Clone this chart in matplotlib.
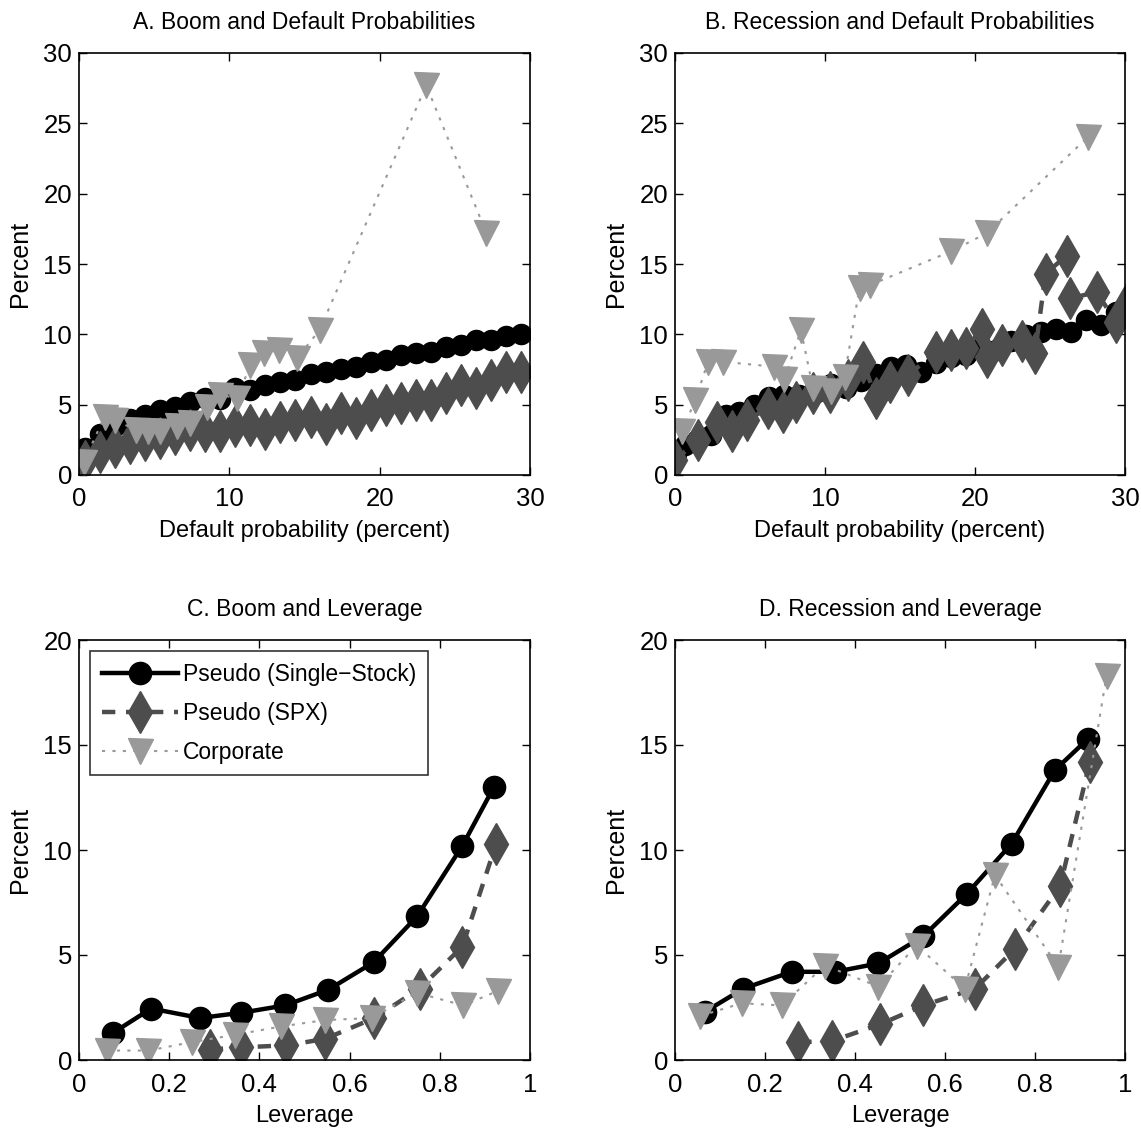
import numpy as np
import matplotlib.pyplot as plt

plt.switch_backend('Agg')
plt.rcParams['font.family'] = ['Liberation Sans', 'DejaVu Sans']

# Panel A: boom vs default probability
a_circ_x = [0.4, 1.4, 2.4, 3.4, 4.4, 5.4, 6.4, 7.4, 8.4, 9.4, 10.4, 11.4, 12.4, 13.4, 14.4,
            15.4, 16.4, 17.4, 18.4, 19.4, 20.4, 21.4, 22.4, 23.4, 24.4, 25.4, 26.4, 27.4, 28.4, 29.4]
a_circ_y = [1.9, 2.9, 3.5, 4.0, 4.25, 4.6, 4.85, 5.2, 5.45, 5.4, 6.15, 6.05, 6.4, 6.6, 6.75,
            7.2, 7.3, 7.55, 7.7, 8.05, 8.15, 8.5, 8.65, 8.75, 9.1, 9.25, 9.6, 9.6, 9.85, 10.05]
a_diam_x = [0.4, 1.4, 2.4, 3.4, 4.4, 5.4, 6.4, 7.4, 8.4, 9.4, 10.4, 11.4, 12.4, 13.4, 14.4,
            15.4, 16.4, 17.4, 18.4, 19.4, 20.4, 21.4, 22.4, 23.4, 24.4, 25.4, 26.4, 27.4, 28.4, 29.4]
a_diam_y = [1.0, 1.65, 2.0, 2.25, 2.5, 2.6, 2.95, 3.2, 3.1, 3.1, 3.45, 3.55, 3.3, 3.8, 3.9,
            4.15, 3.65, 4.4, 4.05, 4.6, 5.0, 5.1, 5.3, 5.3, 5.8, 6.4, 6.15, 6.75, 7.35, 7.35]
a_tri_x = [0.3, 1.7, 2.4, 3.8, 4.6, 5.4, 6.5, 7.4, 8.5, 9.4, 10.5, 11.4, 12.3, 13.3, 14.5, 16.0, 23.1, 27.1]
a_tri_y = [0.9, 4.15, 3.9, 3.2, 3.1, 3.1, 3.45, 3.7, 4.85, 5.7, 5.45, 7.8, 8.65, 8.9, 8.3, 10.3, 27.7, 17.2]

# Panel B: recession vs default probability
b_circ_x = [0.1, 0.7, 1.5, 2.4, 3.4, 4.3, 5.3, 6.3, 7.3, 8.3, 9.3, 10.4, 11.4, 12.4, 13.4, 14.4,
            15.4, 16.4, 17.4, 18.4, 19.4, 20.4, 21.4, 22.4, 23.4, 24.4, 25.4, 26.4, 27.4, 28.4, 29.4]
b_circ_y = [1.5, 2.1, 2.5, 2.85, 4.25, 4.5, 5.0, 5.55, 5.7, 5.7, 5.8, 6.5, 6.15, 6.7, 7.2, 7.7,
            7.8, 7.35, 7.95, 8.4, 8.5, 9.1, 8.9, 9.5, 9.95, 10.2, 10.4, 10.2, 11.0, 10.65, 11.6]
b_diam_x = [0.0, 1.55, 2.8, 3.8, 4.8, 6.2, 7.2, 8.1, 9.2, 10.3, 11.55, 12.55, 13.4, 14.3, 15.55,
            17.4, 18.4, 19.4, 20.45, 20.8, 21.8, 23.1, 24.0, 24.7, 26.1, 26.3, 28.1, 29.4, 30.2]
b_diam_y = [1.05, 2.5, 3.8, 3.1, 3.9, 4.75, 4.5, 5.2, 5.8, 5.9, 6.75, 8.05, 5.45, 6.6, 7.1,
            8.75, 8.9, 9.0, 10.4, 8.4, 9.25, 9.5, 8.65, 14.3, 15.6, 12.55, 13.0, 10.9, 12.4]
b_tri_x = [0.45, 1.35, 2.2, 3.2, 6.6, 7.3, 8.4, 9.2, 10.4, 11.3, 12.3, 13.0, 18.4, 20.8, 27.5]
b_tri_y = [3.1, 5.3, 8.05, 8.05, 7.7, 6.85, 10.3, 6.15, 6.0, 7.0, 13.3, 13.5, 15.9, 17.2, 24.0]

# Panel C: boom vs leverage
c_circ_x = [0.076, 0.16, 0.268, 0.36, 0.457, 0.553, 0.653, 0.75, 0.85, 0.92]
c_circ_y = [1.3, 2.45, 2.0, 2.25, 2.6, 3.35, 4.65, 6.85, 10.2, 13.0]
c_diam_x = [0.29, 0.36, 0.46, 0.545, 0.655, 0.755, 0.85, 0.925]
c_diam_y = [0.5, 0.6, 0.7, 1.0, 2.0, 3.4, 5.4, 10.3]
c_tri_x = [0.061, 0.154, 0.25, 0.346, 0.449, 0.545, 0.649, 0.749, 0.852, 0.93]
c_tri_y = [0.45, 0.45, 0.85, 1.2, 1.6, 1.9, 2.0, 3.2, 2.6, 3.3]

# Panel D: recession vs leverage
d_circ_x = [0.067, 0.152, 0.259, 0.356, 0.452, 0.552, 0.648, 0.748, 0.844, 0.918]
d_circ_y = [2.3, 3.4, 4.2, 4.2, 4.6, 5.9, 7.9, 10.3, 13.8, 15.3]
d_diam_x = [0.274, 0.348, 0.456, 0.552, 0.667, 0.756, 0.856, 0.922]
d_diam_y = [0.85, 0.9, 1.7, 2.6, 3.4, 5.3, 8.3, 14.2]
d_tri_x = [0.056, 0.148, 0.237, 0.333, 0.452, 0.537, 0.644, 0.711, 0.852, 0.959]
d_tri_y = [2.1, 2.7, 2.6, 4.5, 3.5, 5.45, 3.4, 8.8, 4.45, 18.3]

titles = ['A. Boom and Default Probabilities', 'B. Recession and Default Probabilities',
          'C. Boom and Leverage', 'D. Recession and Leverage']
series_names = ['Pseudo (Single\u2212Stock)', 'Pseudo (SPX)', 'Corporate']

dark = '#4d4d4d'
light = '#999999'

fig = plt.figure(figsize=(11.41, 11.33), dpi=100)
W, H = 1141.0, 1133.0
boxes = [(79, 53, 530, 475), (675, 53, 1125, 475), (79, 640, 530, 1060), (675, 640, 1125, 1060)]
axs = [fig.add_axes([l / W, 1 - b / H, (r - l) / W, (b - t) / H]) for l, t, r, b in boxes]

panels = [
    (a_circ_x, a_circ_y, a_diam_x, a_diam_y, a_tri_x, a_tri_y),
    (b_circ_x, b_circ_y, b_diam_x, b_diam_y, b_tri_x, b_tri_y),
    (c_circ_x, c_circ_y, c_diam_x, c_diam_y, c_tri_x, c_tri_y),
    (d_circ_x, d_circ_y, d_diam_x, d_diam_y, d_tri_x, d_tri_y),
]

for i, (ax, p) in enumerate(zip(axs, panels)):
    top = i < 2
    ms_o = 14.5 if top else 16
    ax.plot(p[0], p[1], '-', color='black', lw=3.2, marker='o', ms=ms_o, label=series_names[0])
    ax.plot(p[2], p[3], color=dark, lw=3.2, dashes=(3, 2.4), marker='d', ms=21,
            mfc=dark, mec=dark, label=series_names[1])
    ax.plot(p[4], p[5], color=light, lw=1.5, dashes=(1.5, 3.5), marker='v', ms=18,
            mfc=light, mec=light, label=series_names[2])

    if top:
        ax.set_xlim(0, 30)
        ax.set_ylim(0, 30)
        ax.set_xticks([0, 10, 20, 30])
        ax.set_yticks([0, 5, 10, 15, 20, 25, 30])
        ax.set_xlabel('Default probability (percent)', fontsize=17, labelpad=6)
    else:
        ax.set_xlim(0, 1)
        ax.set_ylim(0, 20)
        ax.set_xticks([0, 0.2, 0.4, 0.6, 0.8, 1])
        ax.set_xticklabels(['0', '0.2', '0.4', '0.6', '0.8', '1'])
        ax.set_yticks([0, 5, 10, 15, 20])
        ax.set_xlabel('Leverage', fontsize=17, labelpad=6)
    ax.set_ylabel('Percent', fontsize=18, labelpad=8)
    ax.set_title(titles[i], fontsize=16.5, pad=17)
    ax.tick_params(direction='in', top=True, right=True, length=6, width=1,
                   labelsize=18.5, pad=5)
    ax.tick_params(axis='x', pad=9)
    for s in ax.spines.values():
        s.set_linewidth(1.2)

leg = axs[2].legend(loc='upper left', fontsize=16.5, handlelength=3.3, frameon=True,
                    fancybox=False, borderpad=0.5, labelspacing=0.7, handletextpad=0.25,
                    borderaxespad=0.5)
leg.get_frame().set_edgecolor('black')
leg.get_frame().set_linewidth(1.2)

fig.savefig('out.png', dpi=100)
